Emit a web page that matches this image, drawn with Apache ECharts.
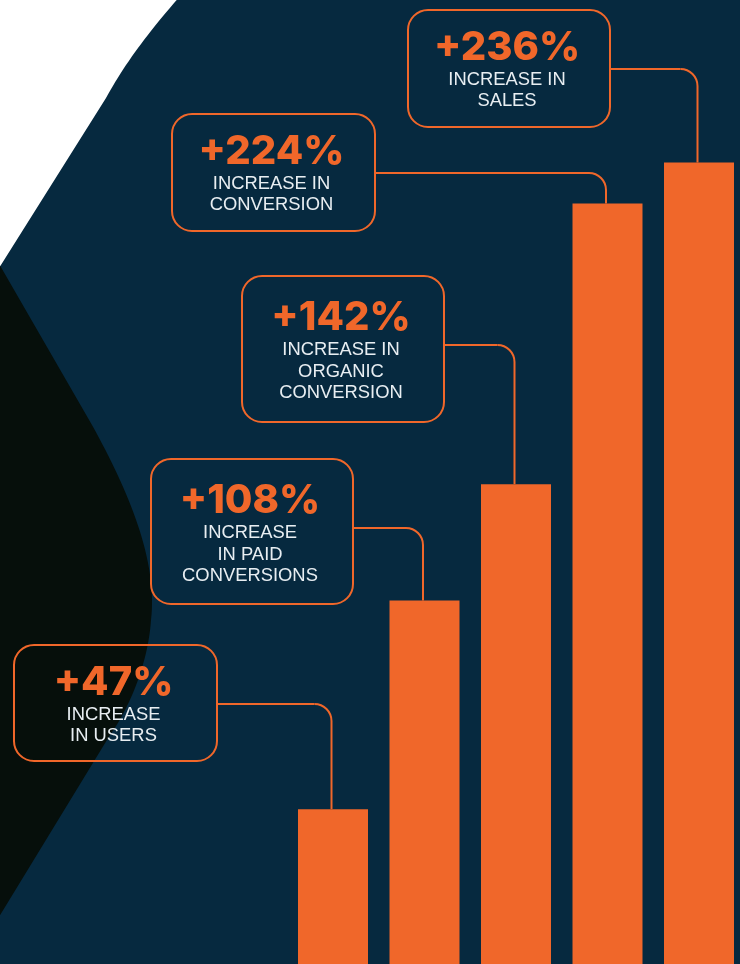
<!DOCTYPE html>
<html>
<head>
<meta charset="utf-8">
<script src="https://cdn.jsdelivr.net/npm/echarts@6/dist/echarts.min.js"></script>
<style>
  html, body { margin: 0; padding: 0; background: #ffffff; }
  #chart { width: 740px; height: 964px; }
</style>
</head>
<body>
<div id="chart"></div>
<script>
// ---- data ----
const categories = ['Users', 'Paid conversions', 'Organic conversion', 'Conversion', 'Sales'];
const values = [47, 108, 142, 224, 236];
const headlines = ['+47%', '+108%', '+142%', '+224%', '+236%'];
const captions = [
  ['INCREASE', 'IN USERS'],
  ['INCREASE', 'IN PAID', 'CONVERSIONS'],
  ['INCREASE IN', 'ORGANIC', 'CONVERSION'],
  ['INCREASE IN', 'CONVERSION'],
  ['INCREASE IN', 'SALES']
];

// ---- layout / style (not data) ----
const boxLayout = [
  { x: 14,  y: 645, w: 203, h: 116, ly: 704 },
  { x: 151, y: 459, w: 202, h: 145, ly: 528 },
  { x: 242, y: 276, w: 202, h: 146, ly: 345 },
  { x: 172, y: 114, w: 203, h: 117, ly: 173 },
  { x: 408, y: 10,  w: 202, h: 117, ly: 69 }
];
const ORANGE = '#f0672a';
const NAVY = '#06293f';
const DARK = '#060f0b';
const TEXT = '#e8eef2';

// background decoration shapes built from line / bezier segments
function shapePoints(segs) {
  const pts = [];
  segs.forEach(function (s) {
    if (s.length === 2) { pts.push(s); return; }
    const p0 = pts[pts.length - 1];
    if (s.length === 4) { // quadratic: [cx, cy, x, y]
      for (let k = 1; k <= 24; k++) {
        const t = k / 24, u = 1 - t;
        pts.push([u * u * p0[0] + 2 * u * t * s[0] + t * t * s[2],
                  u * u * p0[1] + 2 * u * t * s[1] + t * t * s[3]]);
      }
    } else { // cubic: [c1x, c1y, c2x, c2y, x, y]
      for (let k = 1; k <= 32; k++) {
        const t = k / 32, u = 1 - t;
        pts.push([u * u * u * p0[0] + 3 * u * u * t * s[0] + 3 * u * t * t * s[2] + t * t * t * s[4],
                  u * u * u * p0[1] + 3 * u * u * t * s[1] + 3 * u * t * t * s[3] + t * t * t * s[5]]);
      }
    }
  });
  return pts;
}
const navyShape = shapePoints([[182, -6], [132, 50, 106, 98], [-6, 276], [-6, 970], [746, 970], [746, -6]]);
const darkShape = shapePoints([[-6, 255], [92, 425], [128, 490, 158, 560, 151, 620], [148, 665, 128, 710, 110, 735], [-6, 925]]);

const chart = echarts.init(document.getElementById('chart'), null, { renderer: 'canvas' });

function renderCallout(params, api) {
  const i = params.dataIndex;
  const b = boxLayout[i];
  const top = api.coord([api.value(0), api.value(1)]);
  const bx = top[0] - 1.5;
  const R = 17;
  const lines = captions[i];
  const three = lines.length === 3;
  const cx = b.x + b.w / 2 - 2;
  const numY = b.y + (three ? 42 : 38);
  const lineY0 = b.y + (three ? 74.5 : 70);
  const children = [
    { type: 'rect', shape: { x: b.x, y: b.y, width: b.w, height: b.h, r: 20 },
      style: { fill: 'none', stroke: ORANGE, lineWidth: 2 } },
    { type: 'line', shape: { x1: b.x + b.w, y1: b.ly, x2: bx - R, y2: b.ly },
      style: { stroke: ORANGE, lineWidth: 2, fill: null } },
    { type: 'arc', shape: { cx: bx - R, cy: b.ly + R, r: R, startAngle: -Math.PI / 2, endAngle: 0, clockwise: true },
      style: { stroke: ORANGE, lineWidth: 2, fill: null } },
    { type: 'line', shape: { x1: bx, y1: b.ly + R, x2: bx, y2: top[1] },
      style: { stroke: ORANGE, lineWidth: 2, fill: null } },
    { type: 'text', style: { text: headlines[i], x: cx, y: numY, fill: ORANGE,
      font: '800 40px Inter, "Liberation Sans", sans-serif', align: 'center', verticalAlign: 'middle' } }
  ];
  lines.forEach(function (t, k) {
    children.push({ type: 'text', x: cx, y: lineY0 + k * 21.5, scaleX: 1.05,
      style: { text: t, x: 0, y: 0, fill: TEXT,
      font: '400 17.5px "Liberation Sans", Arial, sans-serif', align: 'center', verticalAlign: 'middle' } });
  });
  return { type: 'group', children: children };
}

chart.setOption({
  animation: false,
  backgroundColor: 'transparent',
  graphic: [
    { type: 'polygon', z: -100, silent: true, shape: { points: navyShape }, style: { fill: NAVY } },
    { type: 'polygon', z: -99, silent: true, shape: { points: darkShape }, style: { fill: DARK } }
  ],
  grid: { left: 287.25, width: 457.5, top: 12, height: 958, containLabel: false, outerBoundsMode: 'none' },
  xAxis: { type: 'category', data: categories, show: false, boundaryGap: true },
  yAxis: { type: 'value', min: 0, max: 280, show: false },
  series: [
    { type: 'bar', data: values, barWidth: 70, itemStyle: { color: ORANGE }, silent: true, z: 2 },
    { type: 'custom', renderItem: renderCallout, clip: false, silent: true, z: 3,
      encode: { x: 0, y: 1 },
      data: values.map(function (v, i) { return [i, v]; }) }
  ]
});
</script>
</body>
</html>
